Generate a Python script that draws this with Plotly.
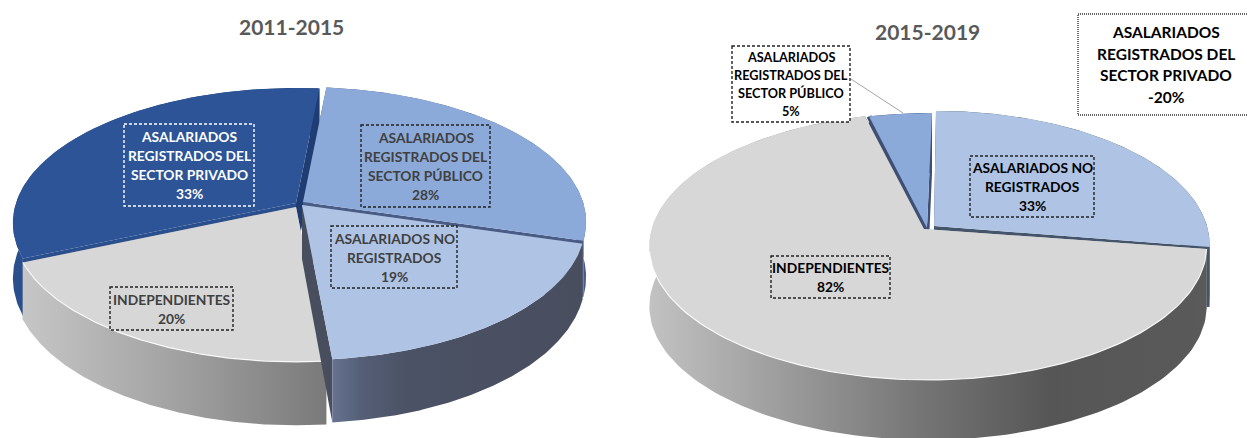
import numpy as np
import plotly.graph_objects as go

# values as labelled on the charts, in clockwise order
labels_2011 = ["SECTOR PÚBLICO", "NO REGISTRADOS", "INDEPENDIENTES", "SECTOR PRIVADO"]
values_2011 = [28, 19, 20, 33]
labels_2015 = ["NO REGISTRADOS", "INDEPENDIENTES", "SECTOR PÚBLICO"]
values_2015 = [33, 82, 5]
privado_2015 = -20

TEXT_FONT = "Lato"
GREY_TEXT = "#404040"

WIDTH, HEIGHT = 1247, 438

# picture geometry of each 3d pie: squash, perspective and thickness
pie_2011 = dict(rx=280, ry=132, k=0.148, depth=54, grow=1.0, start=5.5)
pie_2015 = dict(rx=276, ry=131, k=0.138, depth=60, grow=0.0, start=0)

# slice styles: wedge tip, rim centre, colours (drawn back to front)
slices_2011 = {
    "SECTOR PRIVADO": dict(tip=(296, 203), rim=(296, 203), top="#2c5496",
                           side=[[0, "#2a4f8f"], [1, "#1f3d72"]]),
    "SECTOR PÚBLICO": dict(tip=(303, 202), rim=(303, 202), top="#8caad9",
                           side=[[0, "#3d5078"], [1, "#4a5c85"]]),
    "INDEPENDIENTES": dict(tip=(296, 207), rim=(296, 207), top="#d7d7d7", edge=True,
                           side=[[0, "#c6c6c6"], [0.5, "#a2a2a2"], [1, "#7a7a7a"]]),
    "NO REGISTRADOS": dict(tip=(302, 205), rim=(302, 205), top="#afc4e4",
                           side=[[0, "#667290"], [0.12, "#545e76"], [0.3, "#4b5265"], [1, "#484e5e"]]),
}
order_2011 = ["SECTOR PRIVADO", "SECTOR PÚBLICO", "INDEPENDIENTES", "NO REGISTRADOS"]

slices_2015 = {
    "NO REGISTRADOS": dict(tip=(934, 226), rim=(936, 226), rx=271, top="#afc4e4",
                           side=[[0, "#44546a"], [1, "#44546a"]]),
    "SECTOR PÚBLICO": dict(tip=(927, 228), rim=(932, 228), top="#8caad9", seam="#3d4f75",
                           side=[[0, "#3d4f75"], [1, "#3d4f75"]]),
    "INDEPENDIENTES": dict(tip=(924, 229), rim=(928, 228), top="#d7d7d7", edge=True,
                           side=[[0, "#c2c2c2"], [0.5, "#737373"], [0.72, "#565656"], [1, "#5a5a5a"]]),
}
order_2015 = ["NO REGISTRADOS", "SECTOR PÚBLICO", "INDEPENDIENTES"]


def rim_points(theta, rim, pie, rx):
    t = np.radians(theta)
    u, v = np.sin(t), -np.cos(t)
    w = 1 / (1 - pie["k"] * v)
    return rim[0] + rx * u * w, rim[1] + pie["ry"] * v * w, w


def polygon(fig, xs, ys, color=None, gradient=None):
    trace = dict(x=xs, y=ys, mode="lines", fill="toself", line=dict(width=0),
                 hoverinfo="skip", showlegend=False)
    if gradient:
        trace["fillgradient"] = dict(type="horizontal", colorscale=gradient,
                                     start=float(np.min(xs)), stop=float(np.max(xs)))
        trace["fillcolor"] = gradient[0][1]
    else:
        trace["fillcolor"] = color
    fig.add_trace(go.Scatter(**trace))


def draw_pie(fig, labels, values, styles, order, pie):
    # slice angles come straight from the values
    shares = np.array(values, dtype=float) / sum(values) * 360
    ends = pie["start"] + np.cumsum(shares)
    starts = ends - shares
    spans = {lab: (a, b) for lab, a, b in zip(labels, starts, ends)}

    for lab in order:
        st = styles[lab]
        a, b = spans[lab]
        rx = st.get("rx", pie["rx"])
        thetas = np.linspace(a, b, 160)
        xr, yr, w = rim_points(thetas, st["rim"], pie, rx)
        drop = pie["depth"] * w ** pie["grow"]
        tx, ty = st["tip"]
        tip_drop = pie["depth"]

        # radial faces first, then the outer wall, then the top
        polygon(fig, [tx, xr[0], xr[0], tx], [ty, yr[0], yr[0] + drop[0], ty + tip_drop],
                color=st["side"][0][1])
        polygon(fig, [tx, xr[-1], xr[-1], tx], [ty, yr[-1], yr[-1] + drop[-1], ty + tip_drop],
                color=st["side"][-1][1])
        wall_x = np.concatenate([xr, xr[::-1]])
        wall_y = np.concatenate([yr, (yr + drop)[::-1]])
        polygon(fig, wall_x, wall_y, gradient=st["side"])
        if st.get("seam"):
            fig.add_trace(go.Scatter(x=[tx, xr[0]], y=[ty, yr[0]], mode="lines",
                                     line=dict(color=st["seam"], width=5),
                                     hoverinfo="skip", showlegend=False))
        polygon(fig, np.r_[tx, xr], np.r_[ty, yr], color=st["top"])

        if st.get("edge"):
            front = yr > st["rim"][1] + 20
            fig.add_trace(go.Scatter(x=xr[front], y=yr[front], mode="lines",
                                     line=dict(color="rgba(255,255,255,0.85)", width=1.2),
                                     hoverinfo="skip", showlegend=False))


fig = go.Figure()
draw_pie(fig, labels_2011, values_2011, slices_2011, order_2011, pie_2011)
draw_pie(fig, labels_2015, values_2015, slices_2015, order_2015, pie_2015)

v11 = dict(zip(labels_2011, values_2011))
v15 = dict(zip(labels_2015, values_2015))

# box: x0, y0, x1, y1, text lines, font size, line step, text colour, border colour, fill, dash
boxes = [
    (124, 124, 254, 206, ["ASALARIADOS", "REGISTRADOS DEL", "SECTOR PRIVADO", f"{v11['SECTOR PRIVADO']}%"],
     13.8, 19, "white", "white", None, "3px,2px"),
    (361, 125, 490, 207, ["ASALARIADOS", "REGISTRADOS DEL", "SECTOR PÚBLICO", f"{v11['SECTOR PÚBLICO']}%"],
     13.8, 19, GREY_TEXT, "#222222", None, "3px,2px"),
    (331, 226, 457, 288, ["ASALARIADOS NO", "REGISTRADOS", f"{v11['NO REGISTRADOS']}%"],
     13.8, 19, GREY_TEXT, "#222222", None, "3px,2px"),
    (110, 287, 233, 330, ["INDEPENDIENTES", f"{v11['INDEPENDIENTES']}%"],
     13.8, 19, GREY_TEXT, "#222222", None, "3px,2px"),
    (732, 46, 850, 122, ["ASALARIADOS", "REGISTRADOS DEL", "SECTOR PÚBLICO", f"{v15['SECTOR PÚBLICO']}%"],
     12.7, 18, "black", "#222222", "white", "3px,2px"),
    (771, 256, 890, 298, ["INDEPENDIENTES", f"{v15['INDEPENDIENTES']}%"],
     13.8, 19, "black", "#222222", None, "3px,2px"),
    (970, 156, 1094, 217, ["ASALARIADOS NO", "REGISTRADOS", f"{v15['NO REGISTRADOS']}%"],
     13.8, 19, "black", "#222222", None, "3px,2px"),
    (1078, 14, 1254, 115, ["ASALARIADOS", "REGISTRADOS DEL", "SECTOR PRIVADO", f"{privado_2015}%"],
     15.5, 21.7, "black", "#333333", "white", "1px,1px"),
]

# leader line of the small slice, under its box
fig.add_shape(type="line", x0=851, y0=79, x1=903, y1=113, line=dict(color="#a6a6a6", width=1))

for x0, y0, x1, y1, lines, size, step, color, border, fill, dash in boxes:
    fig.add_shape(type="rect", x0=x0, y0=y0, x1=x1, y1=y1, fillcolor=fill or "rgba(0,0,0,0)",
                  line=dict(color=border, width=1.4, dash=dash))
    for i, text in enumerate(lines):
        fig.add_annotation(x=(x0 + x1) / 2, y=(y0 + y1) / 2 + (i - (len(lines) - 1) / 2) * step,
                           text=text, showarrow=False,
                           font=dict(family=TEXT_FONT, size=size, color=color, weight="bold"))

fig.add_annotation(x=291, y=26, text="2011-2015", showarrow=False,
                   font=dict(family=TEXT_FONT, size=21, color="#595959", weight="bold"))
fig.add_annotation(x=927, y=31, text="2015-2019", showarrow=False,
                   font=dict(family=TEXT_FONT, size=21, color="#595959", weight="bold"))

fig.update_xaxes(visible=False, range=[0, WIDTH], fixedrange=True)
fig.update_yaxes(visible=False, range=[HEIGHT, 0], fixedrange=True)
fig.update_layout(width=WIDTH, height=HEIGHT, margin=dict(l=0, r=0, t=0, b=0),
                  paper_bgcolor="white", plot_bgcolor="white", showlegend=False)

fig.write_html("out.html", config=dict(displayModeBar=False),
               post_script="document.body.style.margin='0';")
